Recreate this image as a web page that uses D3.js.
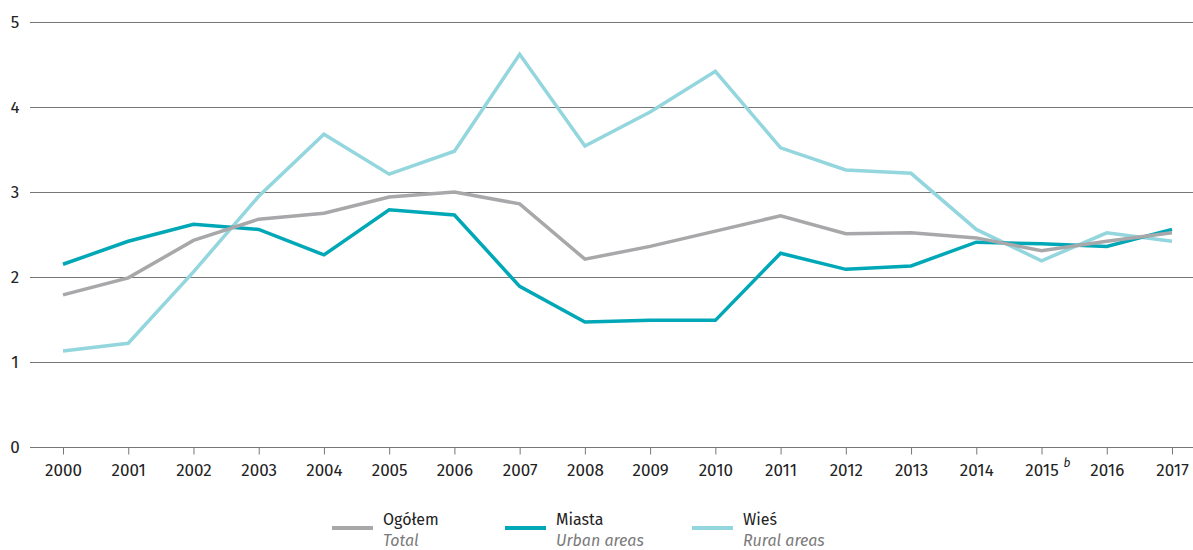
<!DOCTYPE html>
<html>
<head>
<meta charset="utf-8">
<script src="https://cdn.jsdelivr.net/npm/d3@7"></script>
<style>
  body { margin: 0; background: #fff; }
  text { font-family: "Fira Sans", "Noto Sans", "Open Sans", sans-serif; }
</style>
</head>
<body>
<svg id="chart"></svg>
<script>
var years = ["2000","2001","2002","2003","2004","2005","2006","2007","2008","2009","2010","2011","2012","2013","2014","2015","2016","2017"];
var ogolem = [1.79,1.99,2.43,2.68,2.75,2.94,3.00,2.86,2.21,2.36,2.54,2.72,2.51,2.52,2.46,2.31,2.42,2.52];
var miasta = [2.15,2.42,2.62,2.56,2.26,2.79,2.73,1.89,1.47,1.49,1.49,2.28,2.09,2.13,2.41,2.39,2.36,2.56];
var wies   = [1.13,1.22,2.06,2.95,3.68,3.21,3.48,4.62,3.54,3.94,4.42,3.52,3.26,3.22,2.56,2.19,2.52,2.42];
var yTicks = [0,1,2,3,4,5];

var series = [
  {name: "Wieś", sub: "Rural areas", values: wies, color: "#93d6de"},
  {name: "Miasta", sub: "Urban areas", values: miasta, color: "#00a8b7"},
  {name: "Ogółem", sub: "Total", values: ogolem, color: "#a8a8ab"}
];

var width = 1193, height = 550;
var svg = d3.select("#chart").attr("width", width).attr("height", height);

var x = d3.scalePoint().domain(years).range([63, 1172]);
var y = d3.scaleLinear().domain([0, 5]).range([447, 22]);

// gridlines
svg.append("g")
  .selectAll("line")
  .data(yTicks)
  .enter().append("line")
  .attr("x1", 30).attr("x2", width)
  .attr("y1", function(d) { return y(d) + 0.5; })
  .attr("y2", function(d) { return y(d) + 0.5; })
  .attr("stroke", "#777")
  .attr("stroke-width", 1);

svg.append("g")
  .selectAll("text")
  .data(yTicks)
  .enter().append("text")
  .attr("x", 15).attr("y", function(d) { return y(d) + 6; })
  .attr("text-anchor", "middle")
  .attr("font-size", 17)
  .attr("fill", "#222")
  .text(function(d) { return d; });

// x axis
var xAxis = svg.append("g")
  .attr("transform", "translate(0," + (y(0) + 0.5) + ")")
  .call(d3.axisBottom(x).tickSize(7).tickPadding(9).tickFormat(function(d) { return d; }));
xAxis.select(".domain").remove();
xAxis.selectAll(".tick line").attr("stroke", "#777");
xAxis.selectAll(".tick text")
  .attr("font-size", 17)
  .attr("fill", "#222")
  .style("font-family", "'Fira Sans', 'Noto Sans', sans-serif");
xAxis.selectAll(".tick").filter(function(d) { return d === "2015"; })
  .append("text")
  .attr("x", 25).attr("y", 19)
  .attr("font-size", 12)
  .attr("font-style", "italic")
  .attr("fill", "#222")
  .style("font-family", "'Fira Sans', 'Noto Sans', sans-serif")
  .text("b");

var line = d3.line()
  .x(function(d, i) { return x(years[i]); })
  .y(function(d) { return y(d); });

svg.selectAll(".series")
  .data(series)
  .enter().append("path")
  .attr("class", "series")
  .attr("d", function(d) { return line(d.values); })
  .attr("fill", "none")
  .attr("stroke", function(d) { return d.color; })
  .attr("stroke-width", 3.5)
  .attr("stroke-linejoin", "miter");

// legend
var legendOrder = [series[2], series[1], series[0]];
var legendX = [332, 505, 692];
var lg = svg.selectAll(".legend")
  .data(legendOrder)
  .enter().append("g")
  .attr("class", "legend")
  .attr("transform", function(d, i) { return "translate(" + legendX[i] + ",0)"; });
lg.append("line")
  .attr("x1", 0).attr("x2", 41)
  .attr("y1", 528).attr("y2", 528)
  .attr("stroke", function(d) { return d.color; })
  .attr("stroke-width", 4);
lg.append("text")
  .attr("x", 51).attr("y", 525)
  .attr("font-size", 16)
  .attr("fill", "#222")
  .text(function(d) { return d.name; });
lg.append("text")
  .attr("x", 51).attr("y", 546)
  .attr("font-size", 16)
  .attr("font-style", "italic")
  .attr("fill", "#7a7a7a")
  .text(function(d) { return d.sub; });
</script>
</body>
</html>
